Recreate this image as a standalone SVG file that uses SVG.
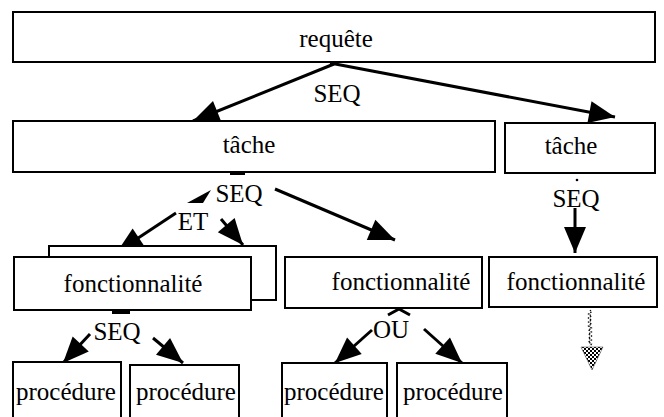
<svg xmlns="http://www.w3.org/2000/svg" width="664" height="417" viewBox="0 0 664 417">
  <style>
    .box { fill: #fff; stroke: #000; stroke-width: 2; }
    text { font-family: 'Liberation Serif', 'DejaVu Serif', serif; font-size: 25px; fill: #000; text-anchor: middle; }
    .edge { stroke: #000; stroke-width: 3; fill: none; marker-end: url(#head); }
    .mark { fill: #000; stroke: none; }
  </style>
  <defs>
    <marker id="head" markerUnits="userSpaceOnUse" markerWidth="30" markerHeight="24" refX="26" refY="11" orient="auto" overflow="visible">
      <path d="M0,0 L26,11 L0,22 z" fill="#000"/>
    </marker>
    <pattern id="checks" width="4" height="4" patternUnits="userSpaceOnUse">
      <rect width="4" height="4" fill="#fff"/>
      <rect width="2" height="2" fill="#000"/>
      <rect x="2" y="2" width="2" height="2" fill="#000"/>
    </pattern>
  </defs>

  <rect width="664" height="417" fill="#fff"/>

  <g id="connectors">
    <line class="edge" x1="334" y1="64" x2="193" y2="121"/>
    <line class="edge" x1="330" y1="63" x2="615" y2="117"/>
    <line class="edge" x1="275" y1="189" x2="395" y2="240"/>
    <line class="edge" x1="176" y1="213" x2="117" y2="252"/>
    <line class="edge" x1="221" y1="219" x2="243" y2="245"/>
    <line class="edge" x1="575" y1="208" x2="575" y2="253"/>
    <line class="edge" x1="90" y1="334" x2="63" y2="363"/>
    <line class="edge" x1="153" y1="338" x2="183" y2="363"/>
    <line class="edge" x1="372" y1="330" x2="335" y2="363"/>
    <line class="edge" x1="424" y1="329" x2="462" y2="363"/>
    <polygon class="mark" points="211,190 187,203 203,203"/>
    <rect class="mark" x="230" y="172" width="15" height="3"/>
    <rect class="mark" x="112" y="310" width="18" height="4"/>
    <polyline points="388,315 399,309 410,315" fill="none" stroke="#000" stroke-width="3"/>
    <circle class="mark" cx="577" cy="180" r="1.3"/>
    <path d="M590,310 l1.5,2 l-3,2 l3,2 l-3,2 l3,2 l-3,2 l3,2 l-3,2 l3,2 l-3,2 l3,2 l-3,2 l3,2 l-3,2 l3,2 l-3,2 l3,2 l-1.5,2" fill="none" stroke="#000" stroke-width="1.2" stroke-dasharray="1.5,1"/>
    <polygon points="581,347 603,347 592,370" fill="url(#checks)" stroke="#555" stroke-width="0.6"/>
  </g>

  <g id="requete">
    <rect class="box" x="13" y="12" width="642" height="50"/>
    <text x="336" y="47">requête</text>
  </g>
  <text x="337" y="102">SEQ</text>

  <g id="tache1">
    <rect class="box" x="13" y="121" width="482" height="51"/>
    <text x="249" y="153">tâche</text>
  </g>
  <g id="tache2">
    <rect class="box" x="505" y="123" width="150" height="50"/>
    <text x="571" y="154">tâche</text>
  </g>

  <text x="239" y="202">SEQ</text>
  <text x="193" y="230">ET</text>
  <text x="576" y="207">SEQ</text>

  <g id="fonct1">
    <rect class="box" x="49" y="246" width="227" height="54"/>
    <rect class="box" x="14" y="257" width="237" height="53"/>
    <text x="133" y="292">fonctionnalité</text>
  </g>
  <g id="fonct2">
    <rect class="box" x="285" y="257" width="197" height="51"/>
    <text x="401" y="290">fonctionnalité</text>
  </g>
  <g id="fonct3">
    <rect class="box" x="489" y="257" width="168" height="50"/>
    <text x="576" y="290">fonctionnalité</text>
  </g>

  <text x="117" y="340">SEQ</text>
  <text x="391" y="338">OU</text>

  <g id="proc1">
    <rect class="box" x="13" y="362" width="108" height="70"/>
    <text x="66" y="400">procédure</text>
  </g>
  <g id="proc2">
    <rect class="box" x="130" y="365" width="109" height="70"/>
    <text x="186" y="400">procédure</text>
  </g>
  <g id="proc3">
    <rect class="box" x="282" y="363" width="105" height="70"/>
    <text x="334" y="400">procédure</text>
  </g>
  <g id="proc4">
    <rect class="box" x="397" y="363" width="110" height="70"/>
    <text x="453" y="400">procédure</text>
  </g>
</svg>
